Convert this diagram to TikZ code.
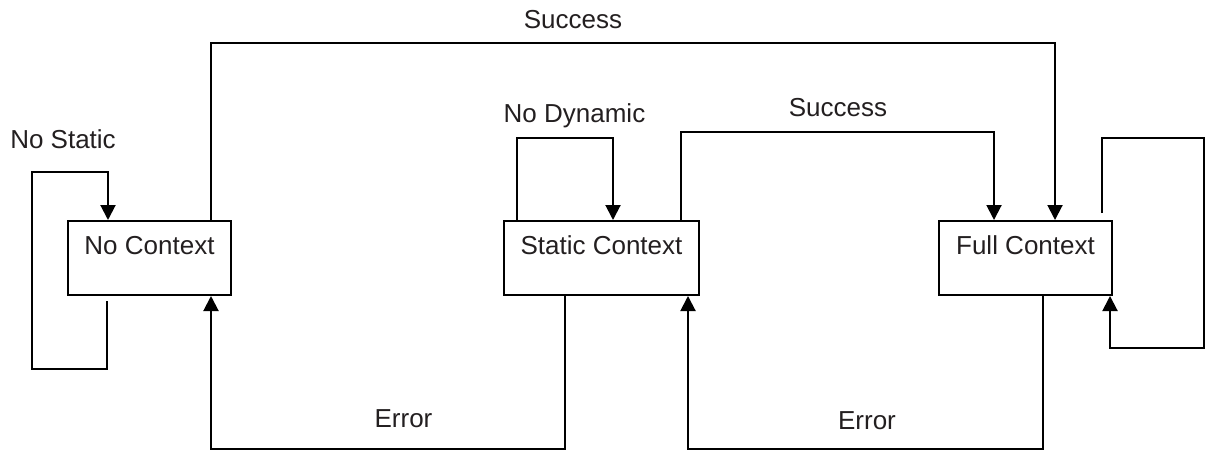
\documentclass[tikz,border=0pt]{standalone}
\usepackage{fontspec}
\setmainfont{Liberation Sans}
\usetikzlibrary{arrows.meta}
\definecolor{ink}{RGB}{35,31,32}
\begin{document}
\begin{tikzpicture}[x=1pt,y=-1pt,
  line width=2pt, draw=black,
  >={Triangle[length=15pt,width=15pt]},
  box/.style={draw, rectangle, inner sep=0pt, text height=33pt, text depth=41pt,
    align=center, anchor=north west, font=\fontsize{26}{30}\selectfont, text=ink},
  lbl/.style={inner sep=0pt, anchor=base, font=\fontsize{26}{30}\selectfont, text=ink}]
\useasboundingbox (0,0) rectangle (1206,452);
% states
\node[box, minimum width=163pt] (nc) at (67,220) {No Context};
\node[box, minimum width=195pt] (sc) at (503,220) {Static Context};
\node[box, minimum width=173pt] (fc) at (938,220) {Full Context};
% free ends of self loops
\coordinate (nsStart) at (107,301);
\coordinate (fsStart) at (1102,213);
% No Context -> Full Context (Success)
\draw[->] ([xshift=61.5pt]nc.north) -- ++(0,-177) -| ([xshift=29.5pt]fc.north);
% No Static loop
\draw[->] (nsStart) -- (107,369) -- (32,369) -- (32,172) -| ([xshift=-41.5pt]nc.north);
% No Dynamic loop
\draw[->] ([xshift=-84.5pt]sc.north) -- ++(0,-82) -| ([xshift=11.5pt]sc.north);
% Static -> Full (Success)
\draw[->] ([xshift=79.5pt]sc.north) -- ++(0,-88) -| ([xshift=-31.5pt]fc.north);
% Full self loop
\draw[->] (fsStart) |- (1204,138) -- (1204,348) -| ([xshift=84.5pt]fc.south);
% Static -> No Context (Error)
\draw[->] ([xshift=-36.5pt]sc.south) -- ++(0,153) -| ([xshift=61.5pt]nc.south);
% Full -> Static (Error)
\draw[->] ([xshift=17.5pt]fc.south) -- ++(0,153) -| ([xshift=86.5pt]sc.south);
% labels
\node[lbl] (l1) at (573,29) {Success};
\node[lbl] (l2) at (63,148) {No Static};
\node[lbl] (l3) at (574.5,122) {No Dynamic};
\node[lbl] (l4) at (838,116) {Success};
\node[lbl] (l5) at (403.5,427) {Error};
\node[lbl] (l6) at (867,429) {Error};
\end{tikzpicture}
\end{document}
